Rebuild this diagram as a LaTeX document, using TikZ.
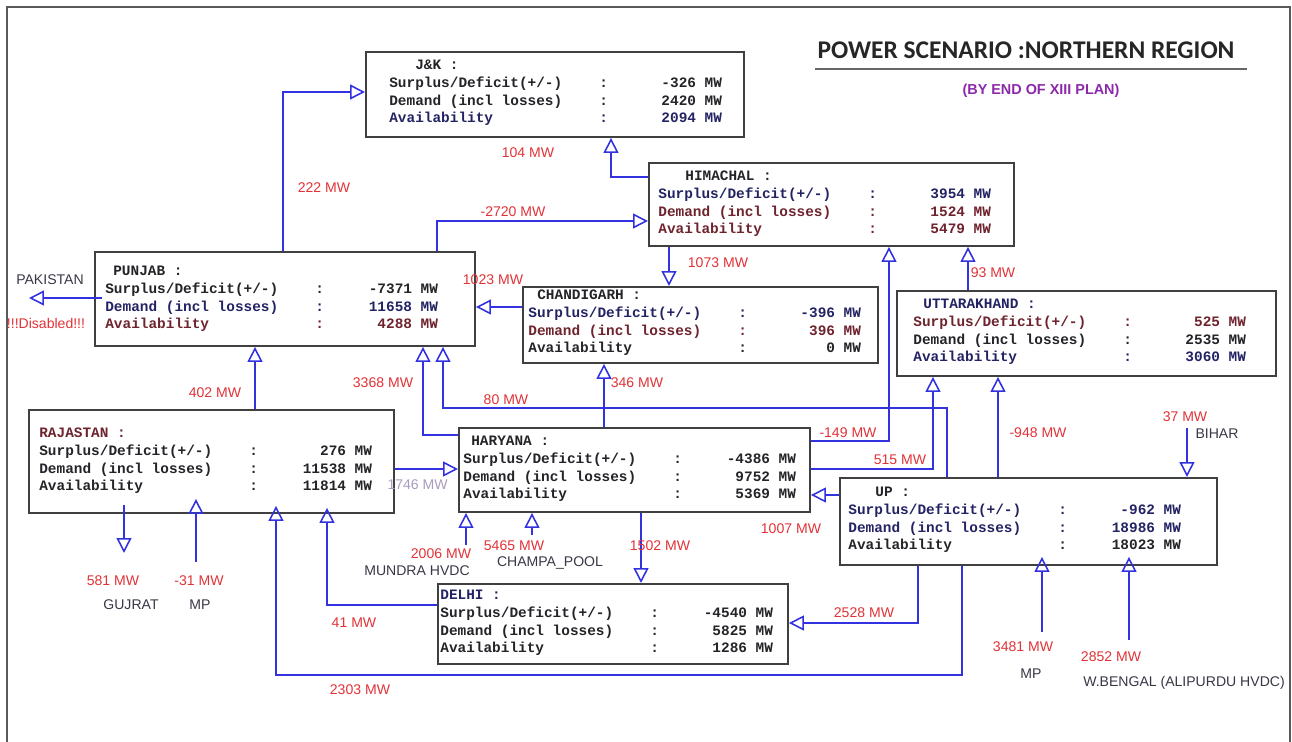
\documentclass[tikz,border=0pt]{standalone}
\usepackage{fontspec}
\setmainfont{Liberation Sans}
\newfontfamily\boxmono{Liberation Mono}
\newfontfamily\titlefont{Carlito}
\usetikzlibrary{arrows.meta, positioning}

\definecolor{flowblue}{RGB}{50,50,225}
\definecolor{mwred}{RGB}{225,50,55}
\definecolor{placegray}{RGB}{55,55,70}
\definecolor{txtdark}{RGB}{35,35,40}
\definecolor{txtnavy}{RGB}{35,35,100}
\definecolor{txtmaroon}{RGB}{110,35,45}
\definecolor{subpurple}{RGB}{140,40,170}
\definecolor{palemw}{RGB}{170,155,190}

\newlength{\pu}\setlength{\pu}{0.02cm}
\newcommand{\regrow}[3]{\textcolor{#1}{\makebox[210\pu][l]{#2}:\makebox[114\pu][r]{#3}}}
\newcommand{\reghead}[3]{\textcolor{#1}{\hspace*{#2\pu}#3}}

\begin{document}
\begin{tikzpicture}[x=0.02cm,y=-0.02cm,
    regbox/.style={draw=black!75, line width=1.1pt, rectangle, inner sep=0pt, anchor=north west},
    regtext/.style={anchor=base west, inner sep=0pt, align=left, font=\fontsize{8.2}{10.2}\selectfont\boxmono\bfseries},
    flow/.style={draw=flowblue, line width=0.9pt, -{Triangle[open, length=8.5pt, width=8.5pt]}},
    mw/.style={text=mwred, font=\fontsize{8}{9}\selectfont, inner sep=0pt},
    place/.style={text=placegray, font=\fontsize{8}{9}\selectfont, inner sep=0pt}]
    \useasboundingbox (0,0) rectangle (1292,742);
    \draw[black!65, line width=0.8pt] (7,742) -- (7,7) -- (1290,7) -- (1290,742);

    \node[font=\titlefont\bfseries\fontsize{14.5}{16}\selectfont, text=black!85, inner sep=0pt] (title) at (1026,50) {POWER SCENARIO :NORTHERN REGION};
    \draw[black!60, line width=1.2pt] (815,69) -- (1247,69);
    \node[text=subpurple, font=\bfseries\fontsize{8.2}{9}\selectfont, inner sep=0pt] (subtitle) at (1041,91) {(BY END OF XIII PLAN)};

    \node[regbox, minimum width=378\pu, minimum height=85\pu] (jk) at (365,51) {};
    \node[regbox, minimum width=365\pu, minimum height=83\pu] (hp) at (648,162) {};
    \node[regbox, minimum width=380\pu, minimum height=94\pu] (pb) at (94,251) {};
    \node[regbox, minimum width=355\pu, minimum height=76\pu] (ch) at (522,286) {};
    \node[regbox, minimum width=379\pu, minimum height=85\pu] (uk) at (896,290) {};
    \node[regbox, minimum width=365\pu, minimum height=103\pu] (rj) at (28,409) {};
    \node[regbox, minimum width=351\pu, minimum height=84\pu] (hr) at (458,427) {};
    \node[regbox, minimum width=377\pu, minimum height=87\pu] (up) at (839,477) {};
    \node[regbox, minimum width=350\pu, minimum height=80\pu] (dl) at (437,583) {};

    \node[regtext] (jkt) at (389,123) {\reghead{txtdark}{26}{J\&K :}\\
        \regrow{txtdark}{Surplus/Deficit(+/-)}{-326 MW}\\
        \regrow{txtdark}{Demand (incl losses)}{2420 MW}\\
        \regrow{txtnavy}{Availability}{2094 MW}};
    \node[regtext] (hpt) at (658,234) {\reghead{txtdark}{27}{HIMACHAL :}\\
        \regrow{txtnavy}{Surplus/Deficit(+/-)}{3954 MW}\\
        \regrow{txtmaroon}{Demand (incl losses)}{1524 MW}\\
        \regrow{txtmaroon}{Availability}{5479 MW}};
    \node[regtext] (pbt) at (105,329) {\reghead{txtdark}{8}{PUNJAB :}\\
        \regrow{txtdark}{Surplus/Deficit(+/-)}{-7371 MW}\\
        \regrow{txtnavy}{Demand (incl losses)}{11658 MW}\\
        \regrow{txtmaroon}{Availability}{4288 MW}};
    \node[regtext] (cht) at (528,353) {\reghead{txtdark}{9}{CHANDIGARH :}\\
        \regrow{txtnavy}{Surplus/Deficit(+/-)}{-396 MW}\\
        \regrow{txtmaroon}{Demand (incl losses)}{396 MW}\\
        \regrow{txtdark}{Availability}{0 MW}};
    \node[regtext] (ukt) at (913,362) {\reghead{txtnavy}{10}{UTTARAKHAND :}\\
        \regrow{txtmaroon}{Surplus/Deficit(+/-)}{525 MW}\\
        \regrow{txtdark}{Demand (incl losses)}{2535 MW}\\
        \regrow{txtnavy}{Availability}{3060 MW}};
    \node[regtext] (rjt) at (39,491) {\reghead{txtmaroon}{0}{RAJASTAN :}\\
        \regrow{txtdark}{Surplus/Deficit(+/-)}{276 MW}\\
        \regrow{txtdark}{Demand (incl losses)}{11538 MW}\\
        \regrow{txtdark}{Availability}{11814 MW}};
    \node[regtext] (hrt) at (463,499) {\reghead{txtdark}{8}{HARYANA :}\\
        \regrow{txtdark}{Surplus/Deficit(+/-)}{-4386 MW}\\
        \regrow{txtdark}{Demand (incl losses)}{9752 MW}\\
        \regrow{txtdark}{Availability}{5369 MW}};
    \node[regtext] (upt) at (848,550) {\reghead{txtdark}{27}{UP :}\\
        \regrow{txtnavy}{Surplus/Deficit(+/-)}{-962 MW}\\
        \regrow{txtnavy}{Demand (incl losses)}{18986 MW}\\
        \regrow{txtdark}{Availability}{18023 MW}};
    \node[regtext] (dlt) at (440,653) {\reghead{txtnavy}{0}{DELHI :}\\
        \regrow{txtdark}{Surplus/Deficit(+/-)}{-4540 MW}\\
        \regrow{txtdark}{Demand (incl losses)}{5825 MW}\\
        \regrow{txtdark}{Availability}{1286 MW}};

    \coordinate (pak) at (29,298);
    \coordinate (gujrat) at (124,553);
    \coordinate (mprj) at (196,562);
    \coordinate (mundra) at (466,545);
    \coordinate (champa) at (532,535);
    \coordinate (bihar) at (1187,428);
    \coordinate (mpup) at (1042,632);
    \coordinate (wbup) at (1129,640);

    \draw[flow] (pb.north -| 283,0) |- (jk.west |- 0,92);
    \draw[flow] (hp.west |- 0,177) -| (jk.south -| 611,0);
    \draw[flow] (pb.north -| 437,0) |- (hp.west |- 0,221);
    \draw[flow] (hp.south -| 669,0) -- (ch.north -| 669,0);
    \draw[flow] (ch.west |- 0,307) -- (pb.east |- 0,307);
    \draw[flow] (uk.north -| 968,0) -- (hp.south -| 968,0);
    \draw[flow] (hr.east |- 0,441) -| (hp.south -| 889,0);
    \draw[flow] (hr.east |- 0,469) -| (uk.south -| 933,0);
    \draw[flow] (up.north -| 998,0) -- (uk.south -| 998,0);
    \draw[flow] (up.north -| 947,0) |- (443,408) -- (pb.south -| 443,0);
    \draw[flow] (hr.west |- 0,435) -| (pb.south -| 423,0);
    \draw[flow] (hr.north -| 604,0) -- (ch.south -| 604,0);
    \draw[flow] (rj.north -| 255,0) -- (pb.south -| 255,0);
    \draw[flow] (rj.east |- 0,469) -- (hr.west |- 0,469);
    \draw[flow] (mundra) -- (hr.south -| mundra);
    \draw[flow] (champa) -- (hr.south -| champa);
    \draw[flow] (hr.south -| 641,0) -- (dl.north -| 641,0);
    \draw[flow] (up.west |- 0,495) -- (hr.east |- 0,495);
    \draw[flow] (up.south -| 918,0) |- (dl.east |- 0,623);
    \draw[flow, shorten >=-8\pu] (up.south -| 962,0) |- (276,675) -- (rj.south -| 276,0);
    \draw[flow, shorten >=-6\pu] (dl.west |- 0,605) -| (rj.south -| 327,0);
    \draw[flow, shorten <=-9\pu] (rj.south -| gujrat) -- (gujrat);
    \draw[flow, shorten >=-15\pu] (mprj) -- (rj.south -| mprj);
    \draw[flow, shorten <=-8\pu] (pb.west |- pak) -- (pak);
    \draw[flow] (bihar) -- (up.north -| bihar);
    \draw[flow, shorten >=-9\pu] (mpup) -- (up.south -| mpup);
    \draw[flow, shorten >=-9\pu] (wbup) -- (up.south -| wbup);

    \node[mw] (m222) at (324,188) {222 MW};
    \node[mw] (m104) at (528,153) {104 MW};
    \node[mw] (m2720) at (513,212) {-2720 MW};
    \node[mw] (m1073) at (718,263) {1073 MW};
    \node[mw] (m1023) at (493,280) {1023 MW};
    \node[mw] (m93) at (993,273) {93 MW};
    \node[mw] (m149) at (848,433) {-149 MW};
    \node[mw] (m515) at (900,460) {515 MW};
    \node[mw] (m948) at (1038,433) {-948 MW};
    \node[mw] (m80) at (506,400) {80 MW};
    \node[mw] (m3368) at (383,383) {3368 MW};
    \node[mw] (m346) at (637,383) {346 MW};
    \node[mw] (m402) at (215,393) {402 MW};
    \node[mw, text=palemw, anchor=east] (m1746) at (448,485) {1746 MW};
    \node[mw] (m2006) at (441,554) {2006 MW};
    \node[mw] (m5465) at (514,546) {5465 MW};
    \node[mw] (m1502) at (660,546) {1502 MW};
    \node[mw] (m1007) at (791,529) {1007 MW};
    \node[mw] (m2528) at (864,613) {2528 MW};
    \node[mw] (m2303) at (360,690) {2303 MW};
    \node[mw] (m41) at (354,623) {41 MW};
    \node[mw] (m581) at (113,581) {581 MW};
    \node[mw] (m31) at (199,581) {-31 MW};
    \node[mw] (m37) at (1185,417) {37 MW};
    \node[mw] (m3481) at (1023,647) {3481 MW};
    \node[mw] (m2852) at (1111,657) {2852 MW};
    \node[mw] (disabled) at (46,323) {!!!Disabled!!!};

    \node[place] (pakistan) at (50,280) {PAKISTAN};
    \node[place] (mundrahvdc) at (417,571) {MUNDRA HVDC};
    \node[place] (champapool) at (550,563) {CHAMPA\_POOL};
    \node[place] (gujratname) at (131,605) {GUJRAT};
    \node[place] (mpwest) at (200,605) {MP};
    \node[place] (biharname) at (1217,434) {BIHAR};
    \node[place] (mpeast) at (1031,674) {MP};
    \node[place] (wbengal) at (1184,683) {W.BENGAL (ALIPURDU HVDC)};
\end{tikzpicture}
\end{document}
